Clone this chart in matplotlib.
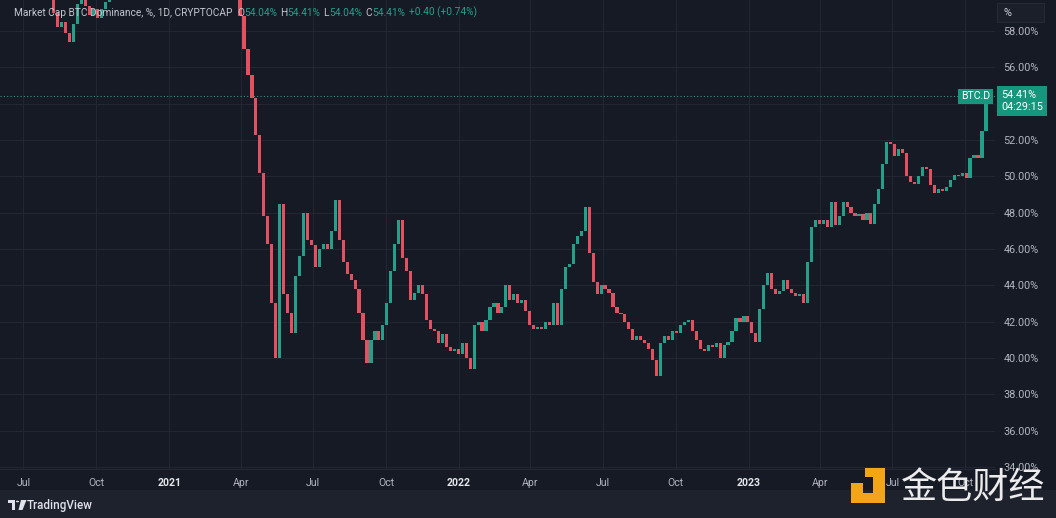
import matplotlib
matplotlib.use("Agg")
import matplotlib.pyplot as plt
import matplotlib.dates as mdates
from matplotlib.patches import Rectangle, Polygon, Circle
from matplotlib.transforms import blended_transform_factory
import pandas as pd
import numpy as np

# ---------------- data ----------------
start_date = "2020-06-04"
step_days = 5
close_values = [
    64.5, 64.8, 65.0, 65.2, 65.0, 64.7, 64.0, 63.6, 63.0, 62.4, 62.0, 61.5, 60.6,
    59.0, 58.2, 58.5, 57.9, 57.4, 58.4, 59.5, 60.0, 59.4, 58.9, 59.2, 58.7, 59.2, 59.6,
    60.8, 61.5, 62.3, 62.8, 63.2, 63.5, 64.0, 64.5, 64.2, 65.0, 66.0, 67.0, 68.5, 70.0,
    72.0, 73.0, 70.5, 68.0, 66.0, 64.5, 63.5, 62.5, 61.5, 62.0, 62.8, 62.0, 61.0, 61.5,
    62.0, 61.5, 61.0, 60.6, 60.3,
    58.8, 57.0, 55.6, 54.3, 52.3, 50.2, 47.8, 46.3, 43.0, 40.0,
    48.5, 43.5, 42.5, 41.4, 44.5, 45.6, 48.0, 46.5, 46.2, 45.0,
    46.0, 46.3, 46.0, 47.0, 48.7, 46.5, 45.3, 44.6, 44.3, 43.8,
    42.5, 41.0, 39.7, 41.0, 41.5, 41.0, 41.8, 43.0, 44.8, 46.3,
    47.6, 45.5, 44.8, 43.2, 43.6, 44.0, 43.5, 42.1, 41.6, 41.5,
    40.8, 41.3, 40.6, 40.4, 40.5, 40.2, 40.8, 40.0, 39.4, 41.8,
    42.0, 41.5, 42.1, 42.8, 43.0, 42.5, 42.8, 44.0, 43.2, 43.5,
    43.0, 43.2, 42.6, 41.8, 41.6, 41.7, 41.6, 42.0, 41.8, 43.0,
    41.8, 43.8, 45.0, 45.2, 46.3, 46.7, 47.0, 48.3, 45.8, 44.2,
    43.5, 44.0, 43.8, 43.6, 42.8, 42.5, 42.4, 42.0, 41.6, 41.0,
    41.2, 41.0, 40.8, 40.5, 39.9, 39.0, 40.8, 41.2, 41.0, 41.5,
    41.4, 41.8, 42.0, 42.1, 41.5, 41.0, 40.5, 40.4, 40.7, 40.6,
    40.8, 40.0, 40.7, 40.9, 41.5, 42.2, 42.0, 42.3, 42.0, 41.4,
    40.9, 42.7, 44.0, 44.7, 43.8, 43.5, 43.7, 44.3, 43.8, 43.6,
    43.4, 43.5, 43.0, 45.3, 47.2, 47.6, 47.4, 47.6, 47.2, 48.6,
    47.3, 47.8, 48.6, 48.3, 48.0, 47.8, 47.9, 47.6, 48.0, 47.4,
    48.5, 49.3, 50.7, 51.9, 51.8, 51.1, 51.5, 51.3, 50.0, 49.7,
    49.6, 50.0, 50.5, 50.4, 49.5, 49.1, 49.3, 49.2, 49.4, 49.8,
    50.1, 50.0, 50.2, 49.9, 51.0, 51.2, 51.0, 52.5, 54.41,
]
title_text = "Market Cap BTC Dominance, %, 1D, CRYPTOCAP"
ohlc_labels = ["O", "H", "L", "C"]
ohlc_values = ["54.04%", "54.41%", "54.04%", "54.41%"]
change_text = "+0.40 (+0.74%)"
last_price = 54.41
symbol = "BTC.D"
countdown = "04:29:15"
y_ticks = [34, 36, 38, 40, 42, 44, 46, 48, 50, 52, 54, 56, 58]
x_tick_dates = ["2020-07-01", "2020-10-01", "2021-01-01", "2021-04-01", "2021-07-01",
                "2021-10-01", "2022-01-01", "2022-04-01", "2022-07-01", "2022-10-01",
                "2023-01-01", "2023-04-01", "2023-07-01", "2023-10-01"]
x_tick_labels = ["Jul", "Oct", "2021", "Apr", "Jul", "Oct", "2022", "Apr", "Jul", "Oct",
                 "2023", "Apr", "Jul", "Oct"]
watermark = "金色财经"
footer_brand = "TradingView"

# ---------------- style ----------------
BG = "#161a25"
FOOT = "#1e222d"
GRID = "#222632"
UP = "#22a08a"
DOWN = "#e4505f"
GREEN_LBL = "#16967d"
TXT = "#b2b5be"
plt.rcParams['font.family'] = ['Roboto', 'DejaVu Sans']

W, H = 1056, 518
fig = plt.figure(figsize=(W / 100, H / 100), dpi=100, facecolor=BG)

def fx(x):
    return x / W

def fy(y):
    return 1 - y / H

# footer
fig.patches.append(Rectangle((0, 0), 1, 28 / H, transform=fig.transFigure,
                             facecolor=FOOT, edgecolor="none", zorder=0))

ax = fig.add_axes([0, fy(471), fx(995), 471 / H])
ax.set_facecolor(BG)
for s in ax.spines.values():
    s.set_visible(False)

dates = pd.date_range(start_date, periods=len(close_values), freq=f"{step_days}D")
closes = np.array(close_values)
opens = np.concatenate([[closes[0]], closes[:-1]])
xd = mdates.date2num(dates)
heights = closes - opens
heights = np.where(np.abs(heights) < 0.06, 0.06, heights)
colors = [UP if c >= o else DOWN for o, c in zip(opens, closes)]
ax.bar(xd, heights, bottom=opens, width=step_days * 0.8, color=colors,
       edgecolor="none", zorder=3)

x0 = mdates.date2num(pd.Timestamp(start_date)) - 2.5
x1 = mdates.date2num(pd.Timestamp(start_date)) + 1251.4
ax.set_xlim(x0, x1)
ax.set_ylim(33.78, 59.706)

tick_x = mdates.date2num(pd.to_datetime(x_tick_dates))
ax.set_xticks(tick_x)
ax.tick_params(axis="x", length=0, labelbottom=False)
ax.yaxis.tick_right()
ax.set_yticks(y_ticks)
ax.set_yticklabels([f"{v:.2f}%" for v in y_ticks])
ax.tick_params(axis="y", length=0, pad=6, labelsize=7.8, labelcolor=TXT)
ax.grid(True, color=GRID, lw=0.8, zorder=0)

# last price dotted line
ax.axhline(last_price, color="#3f8f82", lw=0.8, ls=(0, (1, 2)), zorder=2)
ax.text(990 / 995, last_price, symbol, transform=blended_transform_factory(ax.transAxes, ax.transData),
        ha="right", va="center", fontsize=7.6, color="white", zorder=6,
        bbox=dict(boxstyle="square,pad=0.25", fc=GREEN_LBL, ec="none"))
ax.annotate(f"{last_price:.2f}%\n{countdown}", xy=(1.0, last_price),
            xycoords=blended_transform_factory(ax.transAxes, ax.transData),
            xytext=(6, 6), textcoords="offset pixels", ha="left", va="top",
            fontsize=7.8, color="white", linespacing=1.25, annotation_clip=False,
            bbox=dict(boxstyle="square,pad=0.35", fc=GREEN_LBL, ec="none"), zorder=7)

# legend line top-left
FS = 7.3
t = ax.text(14 / 995, 1 - 13 / 471, title_text, transform=ax.transAxes, ha="left",
            va="center", fontsize=FS, color="#c3c6ce", zorder=8)
prev = t
gap = 5
for lab, val in zip(ohlc_labels, ohlc_values):
    a = ax.annotate(lab, xy=(1, 0), xycoords=prev, xytext=(gap, 0), textcoords="offset pixels",
                    ha="left", va="bottom", fontsize=FS, color="#c3c6ce", zorder=8)
    b = ax.annotate(val, xy=(1, 0), xycoords=a, xytext=(0, 0), textcoords="offset pixels",
                    ha="left", va="bottom", fontsize=FS, color=UP, zorder=8)
    prev = b
    gap = 3
ax.annotate(change_text, xy=(1, 0), xycoords=prev, xytext=(4, 0), textcoords="offset pixels",
            ha="left", va="bottom", fontsize=FS, color=UP, zorder=8)

# bottom time band
axb = fig.add_axes([0, fy(490), fx(995), 21 / H], sharex=ax)
axb.set_facecolor(BG)
for s in axb.spines.values():
    s.set_visible(False)
axb.spines["top"].set_visible(True)
axb.spines["top"].set_color("#242834")
axb.set_yticks([])
axb.set_xticks(tick_x)
axb.set_xticklabels(x_tick_labels)
axb.tick_params(axis="x", length=0, pad=-8.5, labelsize=7.6, labelcolor=TXT)
for lbl in axb.get_xticklabels():
    if lbl.get_text().isdigit():
        lbl.set_fontweight("bold")
        lbl.set_color("#e6e7ea")

# unit box top right
fig.patches.append(Rectangle((fx(997), fy(22)), fx(47), 19 / H, transform=fig.transFigure,
                             facecolor="#1b1f2a", edgecolor="#262a35", lw=0.8, zorder=5))
fig.text(fx(1003), fy(13), "%", ha="left", va="center", fontsize=7.8, color="#d1d4dc", zorder=6)

# footer brand
fig.patches.append(Rectangle((fx(8), fy(503)), fx(7), 3 / H, transform=fig.transFigure,
                             facecolor="#e0e3eb", edgecolor="none", zorder=5))
fig.patches.append(Rectangle((fx(11.5), fy(510)), fx(3.5), 10 / H, transform=fig.transFigure,
                             facecolor="#e0e3eb", edgecolor="none", zorder=5))
fig.patches.append(Circle((fx(17.5), fy(501.5)), 1.6 / W, transform=fig.transFigure,
                          facecolor="#e0e3eb", edgecolor="none", zorder=5))
fig.patches.append(Polygon([(fx(21), fy(500)), (fx(26.5), fy(500)), (fx(22.5), fy(510)),
                            (fx(18.5), fy(510))], closed=True, transform=fig.transFigure,
                           facecolor="#e0e3eb", edgecolor="none", zorder=5))
fig.text(fx(27), fy(505), footer_brand, ha="left", va="center", fontsize=8.4,
         color="#e0e3eb", fontweight="medium", zorder=6)

# watermark
YEL = "#f2a516"
for (x, y, w, h) in [(851, 483, 12, 10), (851, 493, 34, 10), (873, 468, 12, 35), (865, 468, 20, 9)]:
    fig.patches.append(Rectangle((fx(x), fy(y + h)), fx(w), h / H, transform=fig.transFigure,
                                 facecolor=YEL, edgecolor="none", zorder=9))
fig.text(fx(973), fy(488), watermark, ha="center", va="center", fontsize=26,
         family=["Noto Sans CJK SC", "DejaVu Sans"], color="#ececec", zorder=10)

fig.savefig("out.png", dpi=100, facecolor=BG)
